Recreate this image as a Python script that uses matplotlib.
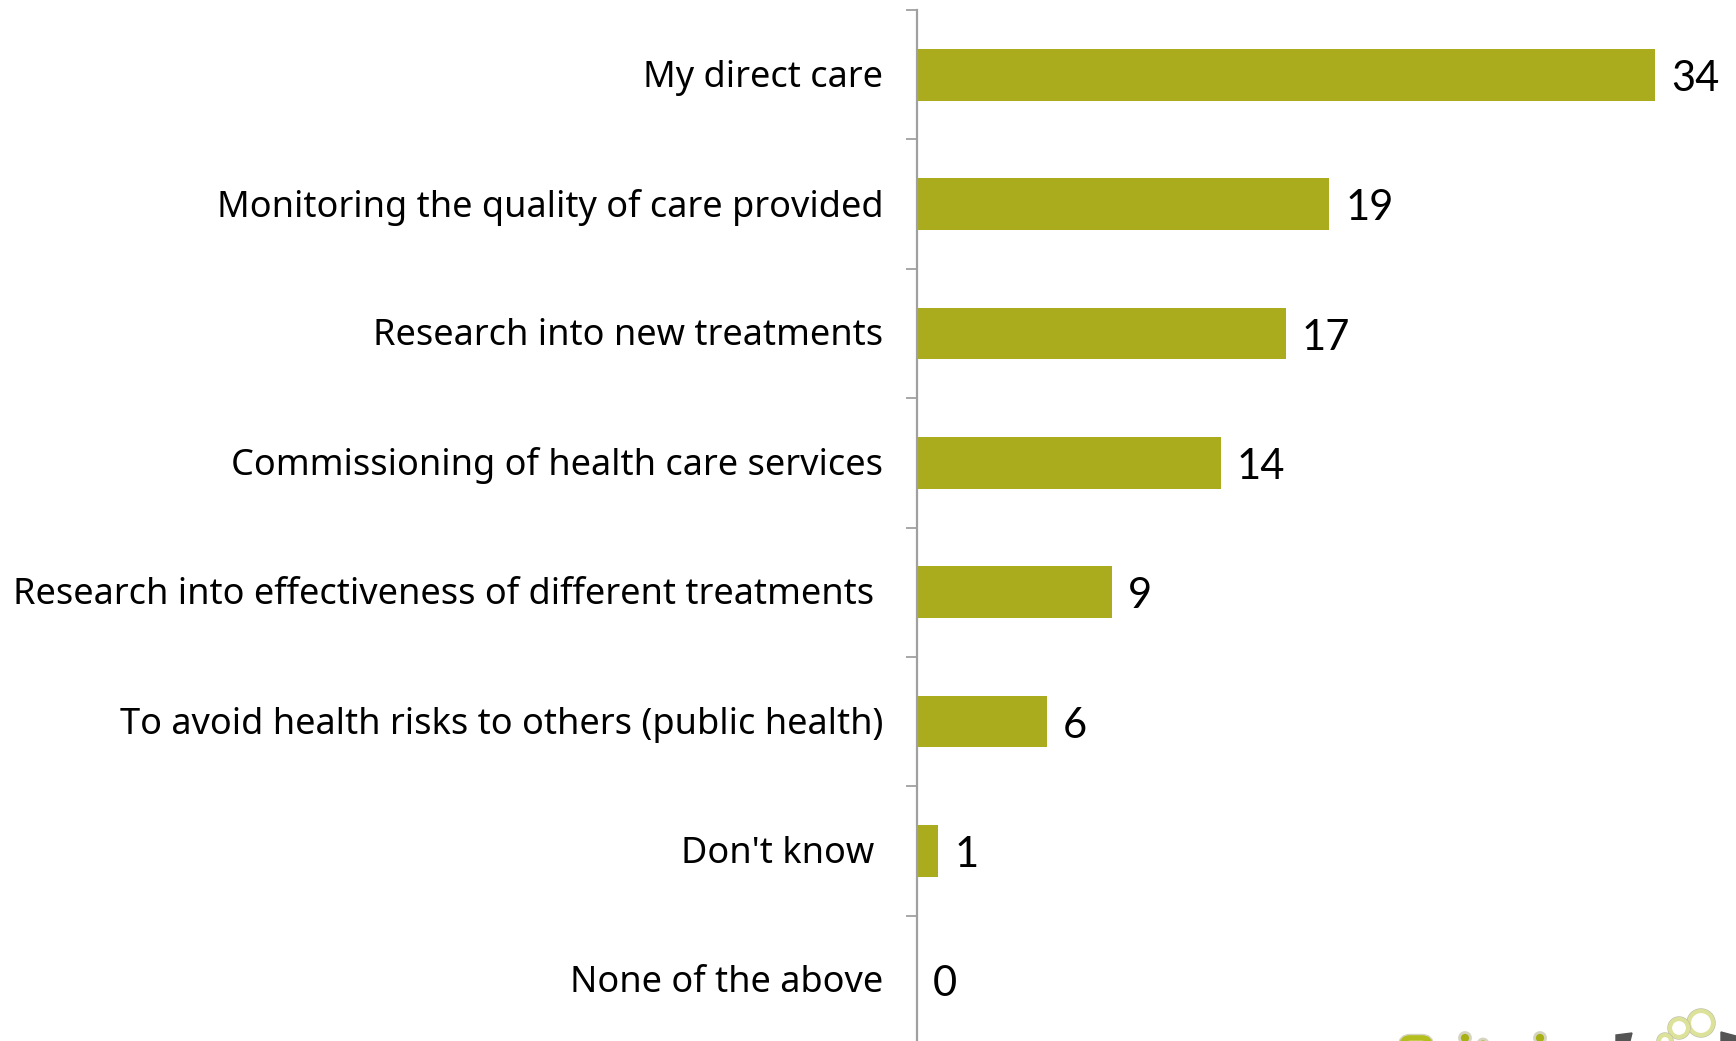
import matplotlib
matplotlib.use('Agg')
from matplotlib import pyplot as plt
from matplotlib.patches import Circle, FancyBboxPatch, Polygon
from matplotlib.transforms import ScaledTranslation

# Survey answers, top to bottom
categories = [
    "My direct care",
    "Monitoring the quality of care provided",
    "Research into new treatments",
    "Commissioning of health care services",
    "Research into effectiveness of different treatments ",
    "To avoid health risks to others (public health)",
    "Don't know ",
    "None of the above",
]
values = [34, 19, 17, 14, 9, 6, 1, 0]

BAR_COLOR = '#ABAB1E'
AXIS_COLOR = '#A0A0A0'
HALO = '#D4D4C0'
W, H = 1736, 1041

fig = plt.figure(figsize=(W / 100, H / 100), dpi=100)
# the value axis runs a little past the bottom edge of the figure
ax = fig.add_axes([916.5 / W, (H - 1045) / H, (W - 916.5) / W, 1035 / H])
ax.set_xlim(0, (W - 916.5) / 21.73)
ax.set_ylim(len(categories) - 0.5, -0.5)

bars = ax.barh(range(len(categories)), values, height=0.4, color=BAR_COLOR)
labels = ax.bar_label(bars, padding=11, fontsize=30, family='Lato', color='black')
for t in labels:
    t.xyann = (11.5, -3)

for side in ['top', 'right', 'bottom']:
    ax.spines[side].set_visible(False)
ax.spines['left'].set_color(AXIS_COLOR)
ax.spines['left'].set_linewidth(1.6)
ax.set_xticks([])

# tick marks sit between categories, labels sit on the category centres
ax.set_yticks([i - 0.5 for i in range(len(categories) + 1)])
ax.set_yticklabels([])
ax.tick_params(axis='y', which='major', length=8, width=1.3, color=AXIS_COLOR)
ax.set_yticks(range(len(categories)), minor=True)
ax.set_yticklabels(categories, minor=True, fontsize=26, family='Noto Sans', color='black')
ax.tick_params(axis='y', which='minor', length=0, pad=24)

# nudge the category labels up a touch
nudge = ScaledTranslation(0, 1.5 / 100, fig.dpi_scale_trans)
for t in ax.get_yticklabels(minor=True):
    t.set_transform(t.get_transform() + nudge)

# logo cut off by the lower right corner, drawn in pixel space
logo = fig.add_axes([0, 0, 1, 1], facecolor='none')
logo.set_xlim(0, W)
logo.set_ylim(H, 0)
logo.axis('off')
logo.add_patch(FancyBboxPatch((1402, 1038), 28, 20, boxstyle='round,pad=0,rounding_size=8',
                              fc='white', ec=HALO, lw=6))
logo.add_patch(FancyBboxPatch((1402, 1038), 28, 20, boxstyle='round,pad=0,rounding_size=8',
                              fc='white', ec='#B4BE1E', lw=4))
for x in (1465, 1540):
    logo.add_patch(Circle((x, 1038), 5.5, fc='#A8B014', ec=HALO, lw=2))
logo.add_patch(Circle((1483, 1044), 5, fc='#A8B014', ec=HALO, lw=2))
logo.add_patch(Polygon([(1616, 1041), (1616, 1035), (1632, 1033), (1630, 1041)], color='#555555'))
logo.add_patch(Polygon([(1721, 1041), (1721, 1032), (1736, 1036), (1736, 1041)], color='#555555'))
for x, y, r in [(1701, 1023, 12), (1679, 1028, 9), (1665, 1041, 6)]:
    logo.add_patch(Circle((x, y), r + 2, fill=False, ec='#BDBDA8', lw=1))
    logo.add_patch(Circle((x, y), r, fill=False, ec='#DDE29A', lw=3))

fig.savefig('out.png', dpi=100)
